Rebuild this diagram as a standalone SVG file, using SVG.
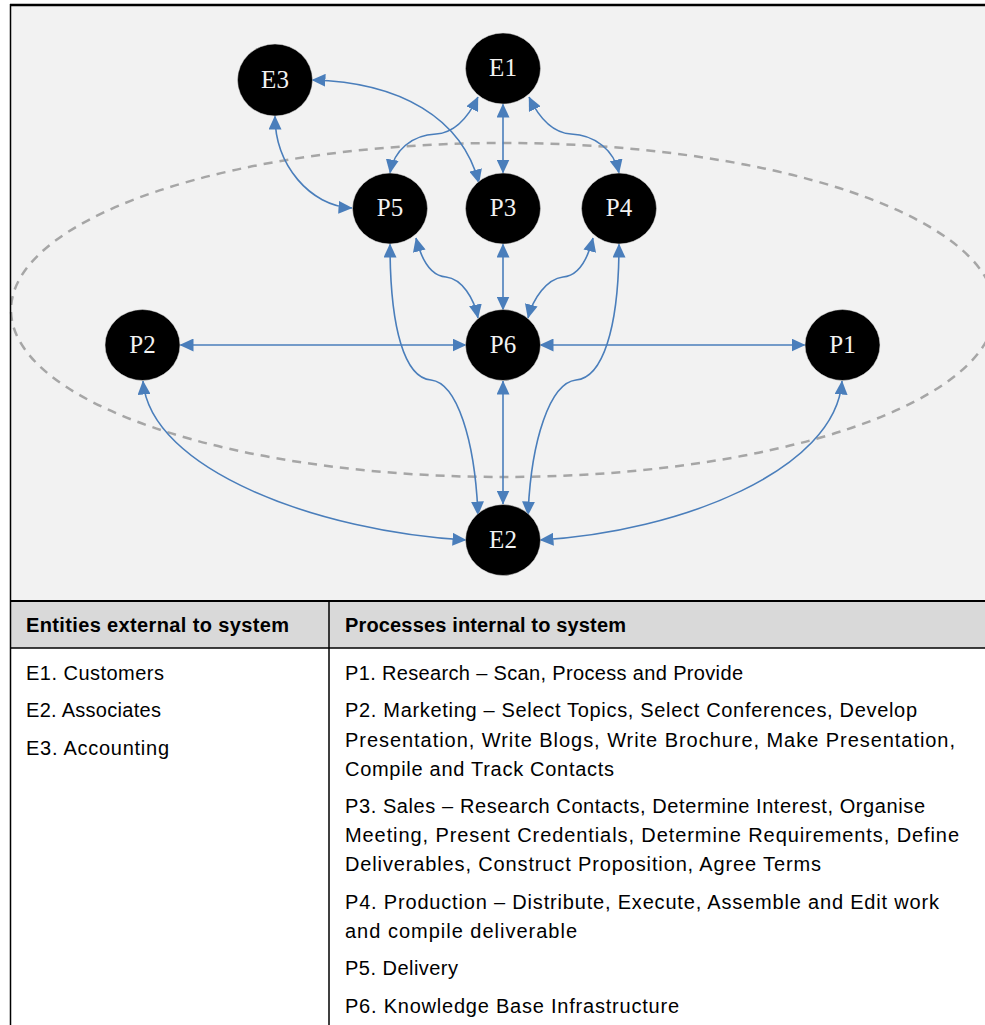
<svg xmlns="http://www.w3.org/2000/svg" width="985" height="1025" viewBox="0 0 985 1025">
  <style>
    .node ellipse { fill: #000; stroke: #d9d9d9; stroke-width: 0.5; }
    .node text { fill: #f2f2f2; font-family: "Liberation Serif", "DejaVu Serif", serif; font-size: 25px; text-anchor: middle; }
    .edge { fill: none; stroke: #4a7ebb; stroke-width: 1.6; marker-start: url(#ah); marker-end: url(#ah); }
    .boundary { fill: none; stroke: #a6a6a6; stroke-width: 2.5; stroke-dasharray: 9 7; }
    .cell { font-family: "Liberation Sans", Arial, sans-serif; font-size: 20px; fill: #000; }
    .head { font-weight: bold; }
  </style>
  <defs>
    <marker id="ah" viewBox="0 0 14 13" refX="13.5" refY="6.5" markerWidth="14" markerHeight="13" markerUnits="userSpaceOnUse" orient="auto-start-reverse">
      <path d="M0,0 L14,6.5 L0,13 z" fill="#4a7ebb"/>
    </marker>
  </defs>

  <!-- page background -->
  <rect x="0" y="0" width="985" height="1025" fill="#fff"/>
  <!-- diagram panel -->
  <rect x="10" y="5" width="980" height="596" fill="#f2f2f2"/>

  <!-- system boundary -->
  <ellipse class="boundary" cx="503" cy="310" rx="492" ry="167"/>

  <!-- connectors -->
  <g id="connectors">
    <path class="edge" d="M312,80 C400,82 462,118 479,183"/>
    <path class="edge" d="M275,116 C275,165 310,206 352,208"/>
    <path class="edge" d="M478,97 C466,122 452,133 436,134 C412,135 394,150 390,173"/>
    <path class="edge" d="M503,104 L503,173"/>
    <path class="edge" d="M529,97 C541,122 555,133 571,134 C595,135 614,150 619,173"/>
    <path class="edge" d="M416,238 C422,262 432,276 446,277 C462,279 474,298 478,318"/>
    <path class="edge" d="M503,244 L503,310"/>
    <path class="edge" d="M593,238 C587,262 577,276 563,277 C547,279 533,298 528,318"/>
    <path class="edge" d="M180,345 L466,345"/>
    <path class="edge" d="M540,345 L805,345"/>
    <path class="edge" d="M390,244 C390,330 405,378 431,380 C457,383 475,440 478,515"/>
    <path class="edge" d="M619,244 C619,330 602,378 576,380 C550,383 531,440 528,515"/>
    <path class="edge" d="M503,381 L503,504"/>
    <path class="edge" d="M143,381 C150,470 320,532 466,540"/>
    <path class="edge" d="M842,381 C836,470 680,532 540,540"/>
  </g>

  <!-- nodes -->
  <g id="E3" class="node"><ellipse cx="275" cy="80" rx="37.5" ry="36"/><text x="275" y="88">E3</text></g>
  <g id="E1" class="node"><ellipse cx="503" cy="68.5" rx="37.5" ry="35.5"/><text x="503" y="76">E1</text></g>
  <g id="P5" class="node"><ellipse cx="390" cy="208.5" rx="37.5" ry="35.5"/><text x="390" y="216">P5</text></g>
  <g id="P3" class="node"><ellipse cx="503" cy="208.5" rx="37.5" ry="35.5"/><text x="503" y="216">P3</text></g>
  <g id="P4" class="node"><ellipse cx="619" cy="208.5" rx="37.5" ry="35.5"/><text x="619" y="216">P4</text></g>
  <g id="P2" class="node"><ellipse cx="142.5" cy="345" rx="37.5" ry="35.5"/><text x="142.5" y="353">P2</text></g>
  <g id="P6" class="node"><ellipse cx="503" cy="345" rx="37.5" ry="35.5"/><text x="503" y="353">P6</text></g>
  <g id="P1" class="node"><ellipse cx="842.5" cy="345" rx="37.5" ry="35.5"/><text x="842.5" y="353">P1</text></g>
  <g id="E2" class="node"><ellipse cx="503" cy="540" rx="37.5" ry="35.5"/><text x="503" y="548">E2</text></g>

  <!-- legend table -->
  <g id="legend">
    <rect x="10" y="601" width="980" height="47" fill="#d9d9d9"/>
    <g stroke="#000" fill="none">
      <line x1="10" y1="601" x2="985" y2="601" stroke-width="2"/>
      <line x1="10" y1="648" x2="985" y2="648" stroke-width="1.5"/>
      <line x1="329" y1="601" x2="329" y2="1025" stroke-width="1.5"/>
    </g>
    <text class="cell head" x="26" y="632" textLength="263" lengthAdjust="spacing">Entities external to system</text>
    <text class="cell head" x="345" y="632" textLength="281" lengthAdjust="spacing">Processes internal to system</text>

    <text class="cell" x="26" y="680" textLength="138" lengthAdjust="spacing">E1. Customers</text>
    <text class="cell" x="26" y="717" textLength="135" lengthAdjust="spacing">E2. Associates</text>
    <text class="cell" x="26" y="755" textLength="143" lengthAdjust="spacing">E3. Accounting</text>

    <text class="cell" x="345" y="680" textLength="398" lengthAdjust="spacing">P1. Research – Scan, Process and Provide</text>
    <text class="cell" x="345" y="717" textLength="572" lengthAdjust="spacing">P2. Marketing – Select Topics, Select Conferences, Develop</text>
    <text class="cell" x="345" y="747" textLength="610" lengthAdjust="spacing">Presentation, Write Blogs, Write Brochure, Make Presentation,</text>
    <text class="cell" x="345" y="776" textLength="269" lengthAdjust="spacing">Compile and Track Contacts</text>
    <text class="cell" x="345" y="813" textLength="580" lengthAdjust="spacing">P3. Sales – Research Contacts, Determine Interest, Organise</text>
    <text class="cell" x="345" y="842" textLength="614" lengthAdjust="spacing">Meeting, Present Credentials, Determine Requirements, Define</text>
    <text class="cell" x="345" y="871" textLength="476" lengthAdjust="spacing">Deliverables, Construct Proposition, Agree Terms</text>
    <text class="cell" x="345" y="909" textLength="594" lengthAdjust="spacing">P4. Production – Distribute, Execute, Assemble and Edit work</text>
    <text class="cell" x="345" y="938" textLength="232" lengthAdjust="spacing">and compile deliverable</text>
    <text class="cell" x="345" y="975" textLength="113" lengthAdjust="spacing">P5. Delivery</text>
    <text class="cell" x="345" y="1013" textLength="334" lengthAdjust="spacing">P6. Knowledge Base Infrastructure</text>
  </g>

  <!-- outer frame -->
  <g stroke="#000" fill="none">
    <line x1="10" y1="5" x2="985" y2="5" stroke-width="2.5"/>
    <line x1="10.5" y1="4" x2="10.5" y2="1025" stroke-width="1.5"/>
  </g>
</svg>
